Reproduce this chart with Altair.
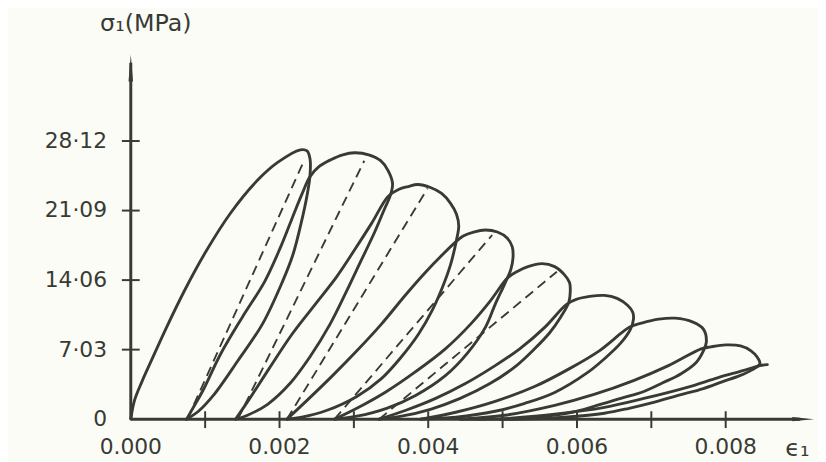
import altair as alt
import pandas as pd

INK = "#383b34"
BG = "#fcfcf7"

# ---- stress-strain strokes (strain, stress MPa) ----
s1_strain = [0, 0.00005, 0.00015, 0.00027, 0.00047, 0.00073, 0.00100, 0.00134, 0.00170, 0.00197, 0.00228, 0.00237,
             0.00241, 0.00241, 0.00237, 0.00230, 0.00218, 0.00204, 0.00177, 0.00144, 0.00111, 0.00091, 0.00075]
s1_stress = [0, 1.90, 3.80, 5.81, 9.11, 13.11, 16.82, 20.82, 24.12, 25.93, 27.23, 27.13,
             26.33, 24.62, 22.62, 20.12, 16.62, 13.91, 9.61, 5.91, 2.40, 0.80, 0]

s2_strain = [0.00075, 0.00085, 0.00097, 0.00121, 0.00150, 0.00180, 0.00201, 0.00217, 0.00230, 0.00241, 0.00253,
             0.00269, 0.00285, 0.00301, 0.00320, 0.00336, 0.00346, 0.00352, 0.00349, 0.00341, 0.00328, 0.00309,
             0.00290, 0.00268, 0.00241, 0.00214, 0.00184, 0.00157, 0.00141]
s2_stress = [0, 1.30, 2.90, 6.61, 10.31, 13.91, 17.32, 20.32, 22.72, 24.52, 25.53,
             26.23, 26.73, 26.93, 26.73, 26.13, 25.13, 23.82, 22.62, 21.22, 18.92, 15.92,
             12.91, 9.61, 6.31, 3.60, 1.50, 0.40, 0]

s3_strain = [0.00141, 0.00160, 0.00186, 0.00217, 0.00248, 0.00277, 0.00301, 0.00324, 0.00346, 0.00360, 0.00373,
             0.00386, 0.00403, 0.00418, 0.00430, 0.00438, 0.00441, 0.00438, 0.00430, 0.00419, 0.00406, 0.00387,
             0.00364, 0.00337, 0.00304, 0.00264, 0.00230, 0.00210]
s3_stress = [0, 2.10, 5.11, 8.61, 11.61, 14.41, 17.12, 19.82, 22.52, 23.22, 23.52,
             23.72, 23.42, 22.82, 21.82, 20.72, 19.52, 18.12, 15.62, 13.31, 11.11, 8.61,
             6.31, 4.10, 2.30, 0.90, 0.20, 0]

s4_strain = [0.00210, 0.00237, 0.00270, 0.00304, 0.00337, 0.00370, 0.00397, 0.00419, 0.00437, 0.00447, 0.00461,
             0.00477, 0.00493, 0.00506, 0.00513, 0.00514, 0.00511, 0.00503, 0.00490, 0.00477, 0.00453, 0.00423,
             0.00383, 0.00344, 0.00304, 0.00274]
s4_stress = [0, 1.90, 4.30, 6.91, 9.61, 12.61, 14.91, 16.62, 17.92, 18.52, 18.92,
             19.12, 18.92, 18.32, 17.42, 16.32, 15.12, 13.71, 11.61, 9.31, 6.71, 4.40,
             2.40, 1.10, 0.30, 0]

s5_strain = [0.00274, 0.00304, 0.00344, 0.00383, 0.00423, 0.00457, 0.00483, 0.00507, 0.00519, 0.00534, 0.00553,
             0.00570, 0.00583, 0.00590, 0.00591, 0.00589, 0.00578, 0.00563, 0.00543, 0.00517, 0.00483, 0.00443,
             0.00403, 0.00364, 0.00334]
s5_stress = [0, 1.10, 2.80, 4.80, 7.11, 9.61, 11.91, 14.31, 14.91, 15.42, 15.72,
             15.42, 14.61, 13.81, 12.91, 11.81, 10.31, 8.71, 7.11, 5.31, 3.60, 2.10,
             1.00, 0.30, 0]

s6_strain = [0.00334, 0.00370, 0.00410, 0.00450, 0.00490, 0.00523, 0.00557, 0.00586, 0.00599, 0.00617, 0.00637,
             0.00654, 0.00668, 0.00675, 0.00676, 0.00672, 0.00659, 0.00637, 0.00614, 0.00570, 0.00530, 0.00490,
             0.00437, 0.00390]
s6_stress = [0, 0.90, 2.10, 3.60, 5.41, 7.11, 9.31, 11.61, 12.11, 12.41, 12.51,
             12.21, 11.51, 10.81, 10.11, 9.11, 7.71, 6.11, 4.70, 2.70, 1.60, 0.80,
             0.20, 0]

s7_strain = [0.00390, 0.00437, 0.00490, 0.00543, 0.00590, 0.00630, 0.00671, 0.00687, 0.00710, 0.00732, 0.00756,
             0.00770, 0.00774, 0.00770, 0.00760, 0.00740, 0.00716, 0.00690, 0.00659, 0.00623, 0.00593, 0.00543,
             0.00490, 0.00443]
s7_stress = [0, 0.70, 1.80, 3.30, 5.11, 6.91, 9.31, 9.71, 10.11, 10.21, 9.81,
             9.11, 7.81, 6.91, 5.71, 4.60, 3.70, 2.80, 2.10, 1.30, 0.70, 0.20,
             0, 0]

s8_strain = [0.00443, 0.00503, 0.00570, 0.00623, 0.00676, 0.00723, 0.00767, 0.00780, 0.00800, 0.00820, 0.00834,
             0.00842, 0.00846, 0.00836, 0.00819, 0.00796, 0.00770, 0.00736, 0.00703, 0.00670, 0.00637, 0.00583,
             0.00530, 0.00497]
s8_stress = [0, 0.40, 1.40, 2.50, 3.90, 5.41, 7.11, 7.31, 7.51, 7.41, 6.91,
             6.31, 5.61, 5.01, 4.40, 3.80, 3.10, 2.40, 1.70, 1.10, 0.60, 0.20,
             0, 0]

s9_strain = [0.00497, 0.00570, 0.00637, 0.00690, 0.00747, 0.00790, 0.00823, 0.00846, 0.00856]
s9_stress = [0, 0.50, 1.20, 2.10, 3.20, 4.20, 4.90, 5.41, 5.51]

# dashed secant lines (residual strain -> near loop top)
d_start_strain = [0.00076, 0.00144, 0.00210, 0.00274, 0.00334]
d_end_strain = [0.00233, 0.00314, 0.00399, 0.00486, 0.00573]
d_end_stress = [26.13, 26.13, 23.32, 18.62, 14.91]

# axes
y_tick_values = [7.03, 14.06, 21.09, 28.12]
y_label_values = [0, 7.03, 14.06, 21.09, 28.12]
y_label_texts = ["0", "7·03", "14·06", "21·09", "28·12"]
x_tick_values = [0.001, 0.002, 0.003, 0.004, 0.005, 0.006, 0.007, 0.008]
x_label_values = [0.000, 0.002, 0.004, 0.006, 0.008]
x_label_texts = ["0.000", "0.002", "0.004", "0.006", "0.008"]

W, H = 690, 368
XMAX, YMAX = 0.009188, 36.84

strokes = [(s1_strain, s1_stress), (s2_strain, s2_stress), (s3_strain, s3_stress),
           (s4_strain, s4_stress), (s5_strain, s5_stress), (s6_strain, s6_stress),
           (s7_strain, s7_stress), (s8_strain, s8_stress), (s9_strain, s9_stress)]
rows = []
for k, (xs_, ys_) in enumerate(strokes):
    for i, (a, b) in enumerate(zip(xs_, ys_)):
        rows.append({"stroke": k, "i": i, "strain": a, "stress": b})
df = pd.DataFrame(rows)

drows = []
for k, (a, b, c) in enumerate(zip(d_start_strain, d_end_strain, d_end_stress)):
    drows.append({"line": k, "i": 0, "strain": a, "stress": 0.0})
    drows.append({"line": k, "i": 1, "strain": b, "stress": c})
dfd = pd.DataFrame(drows)

xsc = alt.Scale(domain=[0, XMAX], nice=False, zero=False)
ysc = alt.Scale(domain=[0, YMAX], nice=False, zero=False)

curves = alt.Chart(df).mark_line(
    interpolate="catmull-rom", color=INK, strokeWidth=2.9, strokeCap="round", strokeJoin="round"
).encode(
    x=alt.X("strain:Q", scale=xsc, axis=None),
    y=alt.Y("stress:Q", scale=ysc, axis=None),
    detail="stroke:N",
    order="i:Q",
)

dashed = alt.Chart(dfd).mark_line(color=INK, strokeWidth=1.9, strokeDash=[10, 6]).encode(
    x=alt.X("strain:Q", scale=xsc, axis=None),
    y=alt.Y("stress:Q", scale=ysc, axis=None),
    detail="line:N",
    order="i:Q",
)

one = pd.DataFrame({"a": [0]})
yaxis_line = alt.Chart(one).mark_rule(color=INK, strokeWidth=3).encode(
    x=alt.value(0), y=alt.value(8), y2=alt.value(H))
xaxis_line = alt.Chart(one).mark_rule(color=INK, strokeWidth=3).encode(
    x=alt.value(0), x2=alt.value(W - 14), y=alt.value(H))
yarrow = alt.Chart(one).mark_point(
    shape="M0,-1L0.17,1L-0.17,1Z", filled=True, size=729, color=INK, opacity=1, strokeWidth=0
).encode(x=alt.value(0), y=alt.value(13.5))
xarrow = alt.Chart(one).mark_point(
    shape="M1,0L-1,-0.2L-1,0.2Z", filled=True, size=484, color=INK, opacity=1, strokeWidth=0
).encode(x=alt.value(W - 11), y=alt.value(H))

yticks = alt.Chart(pd.DataFrame({"v": y_tick_values})).mark_rule(color=INK, strokeWidth=2).encode(
    y=alt.Y("v:Q", scale=ysc, axis=None), x=alt.value(-9), x2=alt.value(9))
xticks = alt.Chart(pd.DataFrame({"v": x_tick_values})).mark_rule(color=INK, strokeWidth=2).encode(
    x=alt.X("v:Q", scale=xsc, axis=None), y=alt.value(H - 8), y2=alt.value(H + 9))

ylabels = alt.Chart(pd.DataFrame({"v": y_label_values, "t": y_label_texts})).mark_text(
    align="right", baseline="middle", font="DejaVu Sans", fontSize=22, color=INK
).encode(y=alt.Y("v:Q", scale=ysc, axis=None), x=alt.value(-24), text="t:N")
xlabels = alt.Chart(pd.DataFrame({"v": x_label_values, "t": x_label_texts})).mark_text(
    align="center", baseline="alphabetic", font="DejaVu Sans", fontSize=22, color=INK
).encode(x=alt.X("v:Q", scale=xsc, axis=None), y=alt.value(H + 35), text="t:N")

ytitle = alt.Chart(one).mark_text(
    align="left", baseline="alphabetic", font="DejaVu Sans", fontSize=24, color=INK
).encode(x=alt.value(-31), y=alt.value(-24), text=alt.value("σ₁(MPa)"))
xtitle = alt.Chart(one).mark_text(
    align="left", baseline="alphabetic", font="DejaVu Sans", fontSize=24, color=INK
).encode(x=alt.value(W - 29), y=alt.value(H + 37), text=alt.value("ϵ₁"))

chart = alt.layer(
    curves, dashed, yaxis_line, xaxis_line, yarrow, xarrow, yticks, xticks, ylabels, xlabels, ytitle, xtitle
).properties(
    width=W, height=H,
    autosize=alt.AutoSizeParams(type="none"),
    padding={"left": 124, "top": 45, "right": 4, "bottom": 40},
    background=BG,
).configure_view(stroke=None)

chart.save("out.html", embed_options={"renderer": "svg", "actions": False})
